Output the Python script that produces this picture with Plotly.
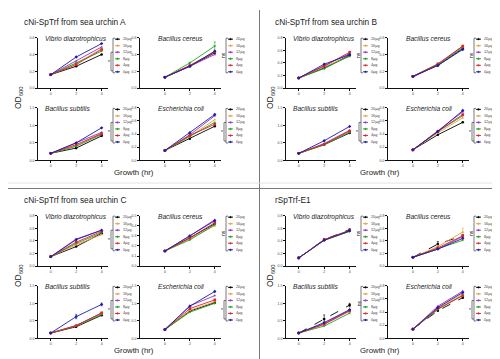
import plotly.graph_objects as go

W, H = 500, 359

hours = [0, 2, 4]
doses = ["20µg", "16µg", "12µg", "8µg", "4µg", "0µg"]
colors = ["#000000", "#e8a040", "#9933cc", "#22a022", "#e02424", "#1c1ca8"]
symbols = ["circle", "triangle-up", "triangle-up", "triangle-down", "square", "diamond"]

panel_titles = ["cNi-SpTrf from sea urchin A", "cNi-SpTrf from sea urchin B",
                "cNi-SpTrf from sea urchin C", "rSpTrf-E1"]
bacteria = ["Vibrio diazotrophicus", "Bacillus cereus", "Bacillus subtilis", "Escherichia coli"]

# y-axis maxima and tick steps per panel/subplot
ymax = [[0.6, 0.6, 1.5, 0.8],
        [0.8, 0.6, 1.5, 0.8],
        [0.8, 0.5, 1.5, 1.5],
        [0.8, 0.8, 1.5, 0.8]]
ystep = [[0.2, 0.2, 0.5, 0.2],
         [0.2, 0.2, 0.5, 0.2],
         [0.2, 0.1, 0.5, 0.5],
         [0.2, 0.2, 0.5, 0.2]]
signif = [["*", "ns", "*", "*"],
          ["ns", "ns", "*", "*"],
          ["*", "ns", "*", "*"],
          ["ns", "ns", "ns", "*"]]

# OD600 values: [panel][bacterium][dose] -> values at 0, 2, 4 h
A_vibrio = [[0.16, 0.26, 0.40], [0.16, 0.29, 0.47], [0.16, 0.32, 0.49],
            [0.16, 0.30, 0.44], [0.16, 0.28, 0.46], [0.16, 0.37, 0.53]]
A_cereus = [[0.13, 0.26, 0.42], [0.13, 0.27, 0.43], [0.13, 0.26, 0.40],
            [0.13, 0.30, 0.50], [0.13, 0.27, 0.43], [0.13, 0.26, 0.44]]
A_subtilis = [[0.20, 0.35, 0.70], [0.20, 0.42, 0.78], [0.20, 0.50, 0.80],
              [0.20, 0.40, 0.74], [0.20, 0.45, 0.76], [0.20, 0.50, 0.93]]
A_coli = [[0.15, 0.33, 0.52], [0.15, 0.37, 0.62], [0.15, 0.39, 0.68],
          [0.15, 0.36, 0.58], [0.15, 0.38, 0.55], [0.15, 0.42, 0.70]]

B_vibrio = [[0.16, 0.32, 0.52], [0.16, 0.34, 0.50], [0.16, 0.36, 0.55],
            [0.16, 0.31, 0.51], [0.16, 0.35, 0.57], [0.16, 0.38, 0.53]]
B_cereus = [[0.14, 0.27, 0.47], [0.14, 0.28, 0.49], [0.13, 0.28, 0.50],
            [0.14, 0.28, 0.48], [0.14, 0.29, 0.50], [0.14, 0.27, 0.46]]
B_subtilis = [[0.20, 0.45, 0.78], [0.20, 0.47, 0.82], [0.20, 0.48, 0.86],
              [0.20, 0.44, 0.80], [0.20, 0.46, 0.84], [0.20, 0.56, 0.97]]
B_coli = [[0.16, 0.39, 0.58], [0.16, 0.42, 0.65], [0.16, 0.45, 0.74],
          [0.16, 0.44, 0.68], [0.16, 0.44, 0.70], [0.16, 0.44, 0.76]]

C_vibrio = [[0.15, 0.31, 0.52], [0.15, 0.34, 0.50], [0.15, 0.43, 0.57],
            [0.15, 0.36, 0.53], [0.15, 0.38, 0.55], [0.15, 0.42, 0.57]]
C_cereus = [[0.15, 0.28, 0.42], [0.15, 0.27, 0.40], [0.15, 0.30, 0.46],
            [0.15, 0.26, 0.41], [0.15, 0.28, 0.43], [0.15, 0.30, 0.45]]
C_subtilis = [[0.15, 0.33, 0.66], [0.15, 0.36, 0.70], [0.15, 0.37, 0.72],
              [0.15, 0.35, 0.68], [0.15, 0.36, 0.73], [0.15, 0.62, 0.97]]
C_coli = [[0.25, 0.78, 1.02], [0.25, 0.80, 1.05], [0.25, 0.93, 1.22],
          [0.25, 0.75, 1.00], [0.25, 0.85, 1.10], [0.25, 0.92, 1.34]]

D_vibrio = [[0.13, 0.42, 0.58], [0.13, 0.41, 0.55], [0.13, 0.42, 0.56],
            [0.13, 0.41, 0.55], [0.13, 0.42, 0.57], [0.13, 0.41, 0.56]]
D_cereus = [[0.14, 0.35, 0.48], [0.14, 0.31, 0.54], [0.14, 0.27, 0.47],
            [0.14, 0.28, 0.41], [0.14, 0.29, 0.48], [0.14, 0.27, 0.44]]
D_subtilis = [[0.15, 0.55, 0.95], [0.15, 0.40, 0.80], [0.15, 0.42, 0.80],
              [0.15, 0.35, 0.72], [0.15, 0.40, 0.78], [0.15, 0.45, 0.82]]
D_coli = [[0.14, 0.42, 0.62], [0.14, 0.46, 0.68], [0.14, 0.49, 0.72],
          [0.14, 0.44, 0.66], [0.14, 0.45, 0.65], [0.14, 0.47, 0.70]]

data = [[A_vibrio, A_cereus, A_subtilis, A_coli],
        [B_vibrio, B_cereus, B_subtilis, B_coli],
        [C_vibrio, C_cereus, C_subtilis, C_coli],
        [D_vibrio, D_cereus, D_subtilis, D_coli]]

# error bars (panel, subplot, dose) -> errors at 0,2,4 h
errors = {(0, 1, 3): [0, 0.01, 0.05], (2, 2, 5): [0, 0.06, 0.04],
          (3, 1, 0): [0, 0.04, 0.02], (3, 1, 1): [0, 0.02, 0.06],
          (3, 2, 0): [0, 0.12, 0.05]}

# ---------------- layout geometry (pixels) ----------------
quad_origin = [(0, 0), (248, 0), (0, 180), (248, 180)]
sub_box = [(30, 100, 28, 79), (132, 213, 28, 79),
           (30, 100, 99, 152), (132, 213, 99, 152)]
sub_xrange = [[-1, 4.5], [-2, 4.5], [-1, 4.5], [-2, 4.5]]

TXT = "#222"


def px(x):
    return x / W


def py(y):
    return 1 - y / H


def line(x0, y0, x1, y1, color="#222", width=0.6):
    return dict(type="line", xref="paper", yref="paper", x0=px(x0), y0=py(y0),
                x1=px(x1), y1=py(y1), line=dict(color=color, width=width))


def text(x, y, s, size, xanchor="left", angle=0, color=TXT):
    return dict(x=px(x), y=py(y), xref="paper", yref="paper", text=s, showarrow=False,
                xanchor=xanchor, yanchor="middle", textangle=angle,
                font=dict(size=size, color=color))


fig = go.Figure()
layout = dict(width=W, height=H, margin=dict(l=0, r=0, t=0, b=0),
              paper_bgcolor="white", plot_bgcolor="white", showlegend=False,
              font=dict(family="Liberation Sans, Arial, sans-serif", color=TXT))
shapes = []
annotations = []

for p in range(4):
    ox, oy = quad_origin[p]
    right = p % 2 == 1
    annotations.append(text(ox + 14 + (3 if right else 0), oy + 12, panel_titles[p], 8.3))
    annotations.append(text(ox + (124 if right else 126), oy + 164, "Growth (hr)", 7.8, xanchor="center"))
    annotations.append(text(ox + (14 if right else 10), oy + 89, "OD<sub>600</sub>", 8.5,
                            xanchor="center", angle=-90))
    for s in range(4):
        k = p * 4 + s + 1
        sfx = "" if k == 1 else str(k)
        x0, x1, y0, y1 = sub_box[s]
        layout["xaxis" + sfx] = dict(
            domain=[px(ox + x0), px(ox + x1)], range=sub_xrange[s], anchor="y" + sfx,
            tickvals=hours, ticktext=[str(h) for h in hours], showline=True,
            linecolor="#111", linewidth=0.8, ticks="outside", ticklen=2, tickwidth=0.6,
            tickcolor="#111", tickfont=dict(size=3.5, color="#444"), showgrid=False,
            zeroline=False, fixedrange=True)
        ym = ymax[p][s]
        st = ystep[p][s]
        n = int(round(ym / st))
        tv = [round(i * st, 2) for i in range(n + 1)]
        layout["yaxis" + sfx] = dict(
            domain=[py(oy + y1), py(oy + y0)], range=[0, ym], anchor="x" + sfx,
            tickvals=tv, ticktext=["%.1f" % v for v in tv], showline=True,
            linecolor="#111", linewidth=0.8, ticks="outside", ticklen=2, tickwidth=0.6,
            tickcolor="#111", tickfont=dict(size=3.5, color="#444"), showgrid=False,
            zeroline=False, fixedrange=True)
        for d in range(6):
            dash = "dash" if (p == 3 and d == 0) else "solid"
            tr = dict(x=hours, y=data[p][s][d], mode="lines+markers",
                      line=dict(color=colors[d], width=0.9, dash=dash),
                      marker=dict(color=colors[d], size=2.6, symbol=symbols[d]),
                      xaxis="x" + sfx, yaxis="y" + sfx, name=doses[d])
            if (p, s, d) in errors:
                tr["error_y"] = dict(type="data", array=errors[(p, s, d)],
                                     color=colors[d], thickness=0.6, width=1)
            fig.add_trace(go.Scatter(**tr))
        # subplot title
        tx = ox + x0 + (5 if s in (0, 2) else 16)
        annotations.append(text(tx, oy + y0 + 1, "<i>" + bacteria[s] + "</i>", 6.6))
        # legend
        R = ox + x1
        rows = [oy + y0 + 1.5 + 6.6 * i for i in range(6)]
        for d in range(6):
            yy = rows[d]
            shapes.append(line(R + 7, yy, R + 12, yy, colors[d], 0.9))
            shapes.append(dict(type="circle", xref="paper", yref="paper",
                               x0=px(R + 8.6), x1=px(R + 10.4), y0=py(yy + 0.9), y1=py(yy - 0.9),
                               line=dict(color=colors[d], width=0.3), fillcolor=colors[d]))
            annotations.append(text(R + 13, yy, doses[d], 3.8, color="#444"))
        # significance bracket
        bx = R + 5
        ya, yb = rows[0] - 1, rows[5] + 1
        shapes += [line(bx, ya, bx, yb), line(bx, ya, bx + 2, ya), line(bx, yb, bx + 2, yb)]
        if signif[p][s] == "*":
            ib = bx - 2
            ia, ibb = rows[2], rows[5] - 1
            shapes += [line(ib, ia, ib, ibb), line(ib, ia, bx, ia), line(ib, ibb, bx, ibb)]
            annotations.append(text(ib - 2, (ia + ibb) / 2, "*", 5, xanchor="center"))
        else:
            annotations.append(text(bx - 2.5, (ya + yb) / 2, "ns", 5, xanchor="center", angle=-90))

# quadrant separators
shapes.append(line(251.5, 0, 251.5, H, "#777", 1))
shapes.append(line(0, 180.5, W, 180.5, "#777", 1))
shapes.append(line(0, 175, W, 175, "#e4e4e4", 1))

layout["shapes"] = shapes
layout["annotations"] = annotations
fig.update_layout(**layout)
fig.write_html("out.html")
